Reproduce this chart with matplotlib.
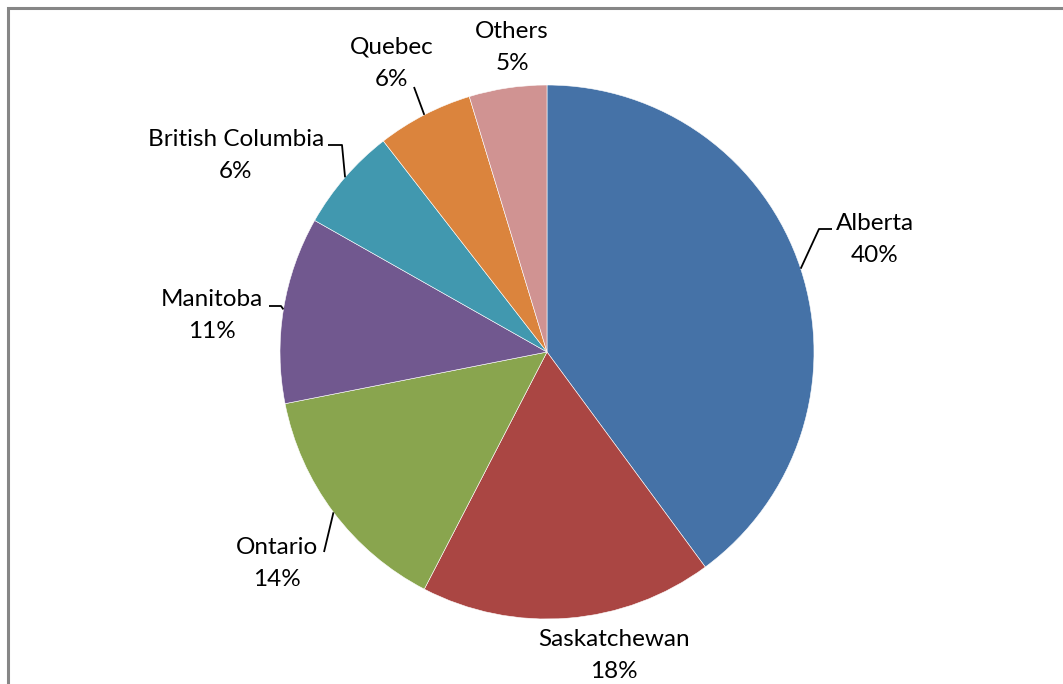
import matplotlib
matplotlib.use("Agg")
import matplotlib.pyplot as plt
import numpy as np

# ---- data ----
categories = ["Alberta", "Saskatchewan", "Ontario", "Manitoba",
              "British Columbia", "Quebec", "Others"]
shares = [39.9, 17.7, 14.3, 11.3, 6.3, 5.8, 4.7]

# ---- style / layout ----
colors = ["#4572A7", "#AA4643", "#89A54E", "#71588F",
          "#4198AF", "#DB843D", "#D09392"]
W, H = 1063, 684
center_px = (547, 352)
radius_px = 267
# label block centres (pixel coords, y down): name line, pct line
label_pos = {
    "Alberta": (875, 223),
    "Saskatchewan": (614, 639),
    "Ontario": (277, 547),
    "Manitoba": (212, 299),
    "British Columbia": (236, 139),
    "Quebec": (392, 47),
    "Others": (512, 31),
}
# leader line intermediate points (pixel coords), after the wedge edge point
leaders = {
    "Alberta": [(819, 229), (832, 229)],
    "Ontario": [(324, 552)],
    "Manitoba": [(281, 306), (269, 306)],
    "British Columbia": [(342, 145), (328, 145)],
    "Quebec": [(414, 87)],
}
line_gap = 32
font = ["Lato", "DejaVu Sans"]
fsize = 17.5

fig = plt.figure(figsize=(W / 100, H / 100), dpi=100)
ax = fig.add_axes([0, 0, 1, 1])
ax.set_xlim(0, W)
ax.set_ylim(0, H)
ax.set_aspect("equal")
ax.axis("off")

cx, cy = center_px[0], H - center_px[1]
wedges, _ = ax.pie(shares, colors=colors, startangle=90, counterclock=False,
                   center=(cx, cy), radius=radius_px,
                   wedgeprops=dict(edgecolor="white", linewidth=0.4))
ax.set_xlim(0, W)
ax.set_ylim(0, H)

for w, name, val in zip(wedges, categories, shares):
    lx, ly = label_pos[name]
    ax.text(lx, H - ly, name, ha="center", va="center", fontsize=fsize,
            family=font, color="black")
    ax.text(lx, H - ly - line_gap, f"{val:.0f}%", ha="center", va="center",
            fontsize=fsize, family=font, color="black")
    if name in leaders:
        mid = np.deg2rad((w.theta1 + w.theta2) / 2)
        ex = cx + radius_px * np.cos(mid)
        ey = cy + radius_px * np.sin(mid)
        pts = [(ex, ey)] + [(px, H - py) for px, py in leaders[name]]
        xs, ys = zip(*pts)
        ax.plot(xs, ys, color="black", lw=1.3, solid_capstyle="butt")

# outer chart-area border (left and top visible)
ax.plot([8, 8, W + 5], [-5, H - 8, H - 8], color="#868686", lw=2.2,
        solid_joinstyle="miter", clip_on=False)

fig.savefig("out.png", dpi=100)
